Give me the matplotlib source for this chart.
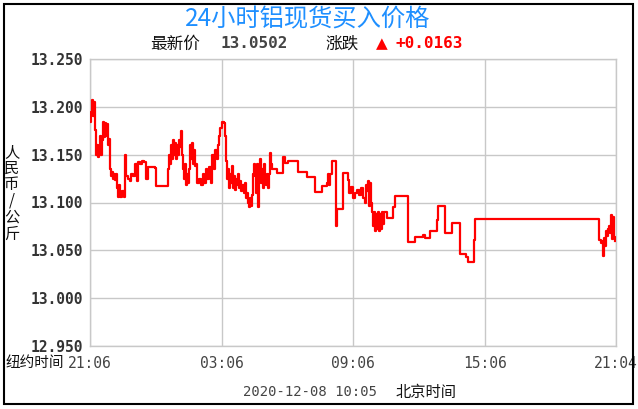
import numpy as np
import matplotlib
matplotlib.use('Agg')
import matplotlib.pyplot as plt
from matplotlib.patches import Rectangle

# 数据: 距 21:06 (纽约时间) 的分钟数, 以及价格 (人民币/公斤)
minutes = [0, 3, 5, 8, 11, 14, 16, 19, 22, 25, 27, 30, 33, 36, 38, 41, 44, 47, 49, 52,
           55, 57, 60, 63, 66, 68, 71, 74, 77, 79, 82, 87, 93, 96, 98, 104, 109, 112, 118, 123,
           129, 131, 137, 142, 148, 153, 159, 178, 180, 211, 213, 216, 219, 221, 224, 227, 230, 232, 235, 238,
           241, 243, 246, 249, 252, 254, 257, 260, 263, 265, 268, 271, 273, 276, 279, 282, 284, 287, 290, 293,
           298, 303, 309, 312, 317, 320, 325, 331, 334, 339, 342, 347, 350, 353, 355, 361, 366, 369, 372, 375,
           377, 380, 383, 386, 388, 391, 394, 397, 399, 402, 405, 408, 410, 413, 416, 421, 424, 427, 429, 432,
           435, 437, 440, 443, 446, 448, 451, 454, 457, 459, 462, 465, 468, 470, 473, 476, 478, 481, 484, 487,
           490, 492, 495, 498, 511, 528, 533, 541, 569, 593, 615, 634, 648, 651, 653, 656, 662, 673, 675, 692,
           705, 708, 714, 719, 725, 730, 735, 741, 746, 752, 755, 757, 760, 763, 766, 768, 771, 774, 776, 779,
           782, 785, 788, 790, 793, 796, 798, 801, 804, 812, 828, 834, 869, 889, 910, 916, 930, 949, 952, 971,
           990, 1012, 1028, 1033, 1050, 1053, 1389, 1392, 1397, 1400, 1403, 1405, 1408, 1411, 1414, 1416, 1419, 1422, 1425, 1427,
           1430, 1433, 1436]
prices = [13.184, 13.195, 13.207, 13.190, 13.205, 13.176, 13.150, 13.160, 13.148, 13.152, 13.170, 13.150, 13.165, 13.184, 13.168, 13.183, 13.170, 13.182, 13.160, 13.166,
          13.135, 13.128, 13.132, 13.125, 13.130, 13.124, 13.130, 13.115, 13.106, 13.118, 13.106, 13.112, 13.106, 13.150, 13.128, 13.125, 13.122, 13.130, 13.128, 13.140,
          13.122, 13.142, 13.140, 13.143, 13.142, 13.125, 13.137, 13.136, 13.117, 13.117, 13.135, 13.150, 13.140, 13.160, 13.145, 13.165, 13.150, 13.162, 13.145, 13.160,
          13.150, 13.165, 13.158, 13.175, 13.150, 13.135, 13.125, 13.140, 13.118, 13.130, 13.120, 13.135, 13.160, 13.145, 13.162, 13.140, 13.155, 13.138, 13.140, 13.120,
          13.125, 13.118, 13.130, 13.120, 13.135, 13.125, 13.137, 13.120, 13.150, 13.135, 13.155, 13.145, 13.160, 13.170, 13.178, 13.184, 13.183, 13.170, 13.143, 13.125,
          13.135, 13.115, 13.130, 13.120, 13.138, 13.115, 13.128, 13.113, 13.125, 13.118, 13.130, 13.115, 13.122, 13.112, 13.118, 13.110, 13.120, 13.105, 13.110, 13.100,
          13.095, 13.105, 13.096, 13.108, 13.130, 13.140, 13.128, 13.110, 13.140, 13.095, 13.130, 13.145, 13.120, 13.135, 13.115, 13.140, 13.125, 13.118, 13.130, 13.115,
          13.130, 13.152, 13.140, 13.135, 13.131, 13.148, 13.141, 13.143, 13.132, 13.127, 13.111, 13.117, 13.120, 13.130, 13.118, 13.130, 13.143, 13.075, 13.093, 13.131,
          13.123, 13.110, 13.116, 13.105, 13.110, 13.113, 13.108, 13.115, 13.105, 13.100, 13.118, 13.112, 13.122, 13.096, 13.120, 13.100, 13.090, 13.075, 13.090, 13.070,
          13.088, 13.072, 13.090, 13.070, 13.088, 13.072, 13.090, 13.078, 13.090, 13.084, 13.095, 13.107, 13.059, 13.064, 13.066, 13.063, 13.070, 13.082, 13.096, 13.068,
          13.079, 13.046, 13.043, 13.038, 13.061, 13.083, 13.083, 13.061, 13.058, 13.060, 13.044, 13.063, 13.055, 13.070, 13.065, 13.072, 13.075, 13.068, 13.087, 13.062,
          13.085, 13.064, 13.060]

x_ticks = [0, 360, 720, 1080, 1438]
x_labels = ['21:06', '03:06', '09:06', '15:06', '21:04']
y_ticks = [12.95, 13.00, 13.05, 13.10, 13.15, 13.20, 13.25]

W, H = 638, 409
cjk = ['Noto Sans CJK SC', 'DejaVu Sans']
mono = 'DejaVu Sans Mono'

fig = plt.figure(figsize=(W / 100, H / 100), dpi=100)
fig.patch.set_facecolor('white')

def fx(px):
    return px / W

def fy(py):
    return 1 - py / H

ax = fig.add_axes([fx(90), fy(346), fx(616) - fx(90), fy(59) - fy(346)])
ax.plot(minutes, prices, color='#ff0000', lw=1.6, drawstyle='steps-post', zorder=3)

ax.set_xlim(0, 1438)
ax.set_ylim(12.95, 13.25)
ax.set_xticks(x_ticks)
ax.set_xticklabels(x_labels, family=mono, fontsize=10.5, color='#444444')
ax.set_yticks(y_ticks)
ax.set_yticklabels(['%.3f' % v for v in y_ticks], family=mono, fontsize=10.5,
                   fontweight='bold', color='#333333')
ax.tick_params(length=0)
ax.tick_params(axis='y', pad=5)
ax.tick_params(axis='x', pad=7)
ax.grid(True, color='#c8c8c8', lw=1)
for s in ax.spines.values():
    s.set_color('#c8c8c8')
    s.set_linewidth(1)

# 标题和行情信息
fig.text(fx(308), fy(19), '24小时铝现货买入价格', family=cjk, fontsize=17.5,
         color='#1e8fff', ha='center', va='center')
fig.text(fx(150), fy(44), '最新价', family=cjk, fontsize=12, color='#111111', va='center')
fig.text(fx(221), fy(44), '13.0502', family=mono, fontsize=11.5, color='#444444',
         fontweight='bold', va='center')
fig.text(fx(325), fy(44), '涨跌', family=cjk, fontsize=12, color='#111111', va='center')
fig.text(fx(376), fy(44), '▲', family='DejaVu Sans', fontsize=11, color='#ff0000', va='center')
fig.text(fx(396), fy(44), '+0.0163', family=mono, fontsize=11.5, color='#ff0000',
         fontweight='bold', va='center')

# 纵轴单位
fig.text(fx(12), fy(193), '\n'.join('人民币/公斤'), family=cjk, fontsize=11,
         color='#111111', ha='center', va='center', linespacing=0.95)

# 底部文字
fig.text(fx(6), fy(363), '纽约时间', family=cjk, fontsize=10.5, color='#111111', va='center')
fig.text(fx(243), fy(392), '2020-12-08 10:05', family=mono, fontsize=10,
         color='#444444', va='center')
fig.text(fx(396), fy(392), '北京时间', family=cjk, fontsize=11, color='#111111', va='center')

# 外框
fig.patches.append(Rectangle((fx(4), fy(404)), fx(633) - fx(4), fy(4) - fy(404),
                             transform=fig.transFigure, fill=False, ec='black', lw=1.5))

fig.savefig('out.png', dpi=100)
